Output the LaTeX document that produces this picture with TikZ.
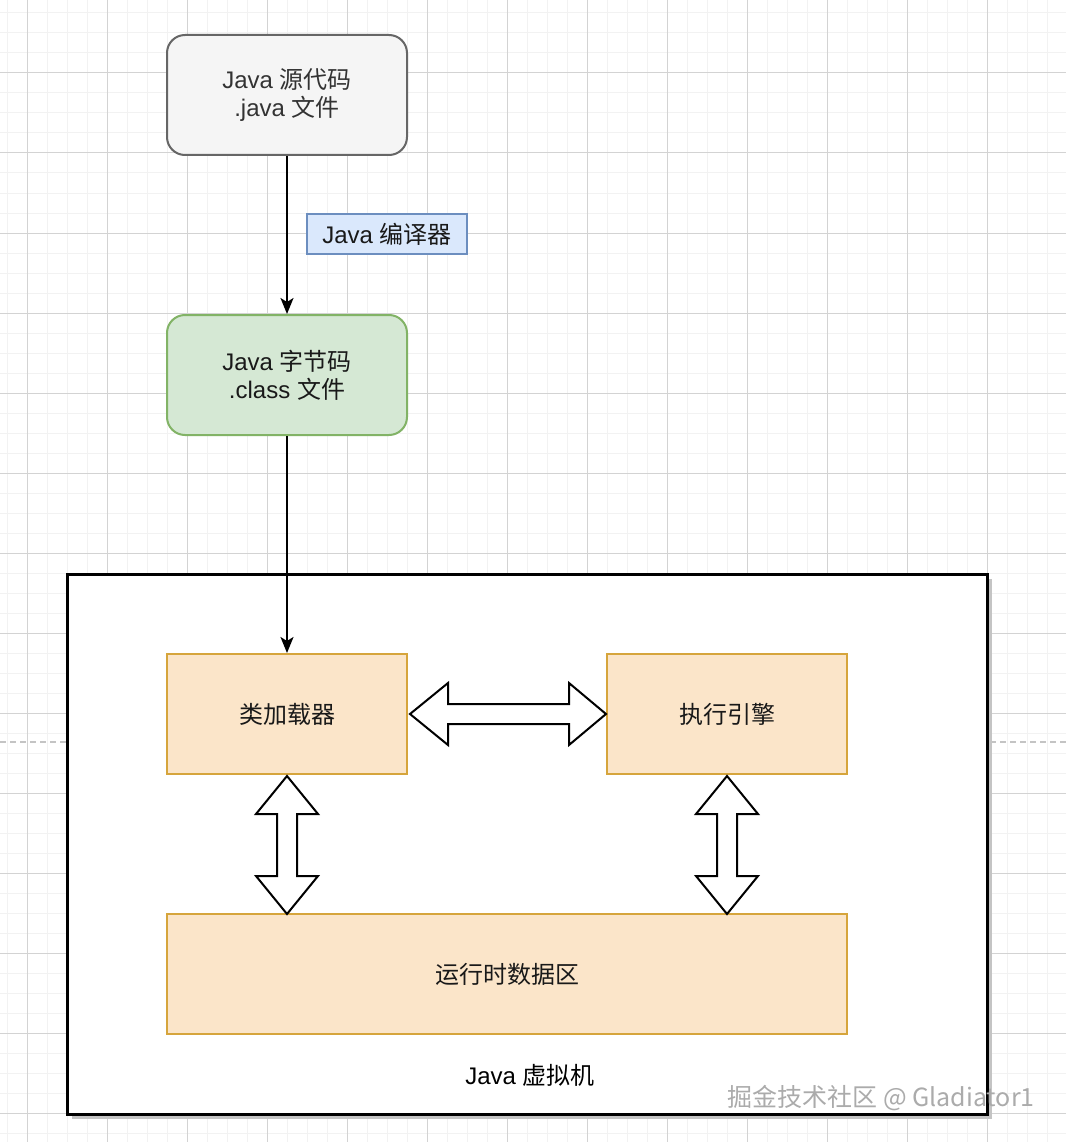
\documentclass[tikz,border=0pt]{standalone}
\usepackage{fontspec}
\setmainfont{Liberation Sans}
\newfontfamily\cjk{Noto Sans CJK SC}
\usetikzlibrary{arrows.meta,calc}
\definecolor{gridminor}{HTML}{F2F2F2}
\definecolor{gridmajor}{HTML}{D3D3D3}
\definecolor{srcfill}{HTML}{F5F5F5}
\definecolor{srcstroke}{HTML}{666666}
\definecolor{srctext}{HTML}{333333}
\definecolor{bcfill}{HTML}{D5E8D4}
\definecolor{bcstroke}{HTML}{82B366}
\definecolor{lblfill}{HTML}{DAE8FC}
\definecolor{lblstroke}{HTML}{6C8EBF}
\definecolor{orfill}{HTML}{FBE5C9}
\definecolor{orstroke}{HTML}{D6A53C}
\definecolor{shadowgray}{HTML}{C4C4C4}
\definecolor{dashgray}{HTML}{C4C4C4}
\definecolor{wmgray}{HTML}{ABABAB}
\begin{document}
\begin{tikzpicture}[x=1pt,y=-1pt,
  every node/.style={font=\fontsize{24}{28}\selectfont, align=center, inner sep=0pt},
  roundbox/.style={rectangle, rounded corners=18pt, minimum width=240pt, minimum height=120pt, line width=2pt},
  orbox/.style={rectangle, draw=orstroke, fill=orfill, line width=2pt, minimum height=120pt, text=black!90},
  conn/.style={line width=2pt, -{Stealth[length=16pt,width=13pt,inset=4pt]}},
  dblarrow/.style={draw=black, fill=white, line width=2pt, line join=miter},
  dashline/.style={dashgray, line width=1.5pt, dash pattern=on 6pt off 4pt},
]
\useasboundingbox (0,0) rectangle (1066,1142);
\fill[white] (0,0) rectangle (1066,1142);
% grid
\foreach \x in {7,27,...,1066} \draw[gridminor, line width=1pt] (\x,0) -- (\x,1142);
\foreach \y in {13,33,...,1142} \draw[gridminor, line width=1pt] (0,\y) -- (1066,\y);
\foreach \x in {27,107,...,1066} \draw[gridmajor, line width=1pt] (\x,0) -- (\x,1142);
\foreach \y in {73,153,...,1142} \draw[gridmajor, line width=1pt] (0,\y) -- (1066,\y);
\draw[dashline] (0,742) -- (1066,742);

% JVM container
\fill[shadowgray] (72,579) rectangle (992,1119);
\node[rectangle, draw=black, fill=white, line width=3pt, minimum width=920pt, minimum height=540pt] (jvm) at (527,844) {};
\node (jvml) at (530,1075) {Java {\cjk 虚拟机}};

% top boxes
\node[roundbox, draw=srcstroke, fill=srcfill, text=srctext] (src) at (287,95) {Java {\cjk 源代码}\\.java {\cjk 文件}};
\node[roundbox, draw=bcstroke, fill=bcfill, text=black!90] (bc) at (287,375) {Java {\cjk 字节码}\\.class {\cjk 文件}};

% inner boxes
\node[orbox, minimum width=240pt] (cl) at (287,714) {{\cjk 类加载器}};
\node[orbox, minimum width=240pt] (ee) at (727,714) {{\cjk 执行引擎}};
\node[orbox, minimum width=680pt] (rt) at (507,974) {{\cjk 运行时数据区}};

% connectors
\draw[conn] (src.south) -- (bc.north);
\node[rectangle, draw=lblstroke, fill=lblfill, line width=2pt, minimum width=160pt, minimum height=40pt, text=black!90] (lbl) at (387,234) {Java {\cjk 编译器}};
\draw[conn] (bc.south) -- (cl.north);

% double arrows
\coordinate (h1) at ($(cl.east)+(2,0)$);
\draw[dblarrow] (h1) -- ++(38,-31) -- ++(0,21) -- ++(121,0) -- ++(0,-21) -- ++(37,31)
  -- ++(-37,31) -- ++(0,-21) -- ++(-121,0) -- ++(0,21) -- cycle;
\coordinate (v1) at ($(cl.south)+(0,1)$);
\draw[dblarrow] (v1) -- ++(31,38) -- ++(-21,0) -- ++(0,62) -- ++(21,0) -- ++(-31,38)
  -- ++(-31,-38) -- ++(21,0) -- ++(0,-62) -- ++(-21,0) -- cycle;
\coordinate (v2) at ($(ee.south)+(0,1)$);
\draw[dblarrow] (v2) -- ++(31,38) -- ++(-21,0) -- ++(0,62) -- ++(21,0) -- ++(-31,38)
  -- ++(-31,-38) -- ++(21,0) -- ++(0,-62) -- ++(-21,0) -- cycle;

% watermark
\node[text=wmgray, font=\cjk\fontsize{25}{28}\selectfont] (wm) at (881,1098) {掘金技术社区 @ Gladiator1};
\end{tikzpicture}
\end{document}
